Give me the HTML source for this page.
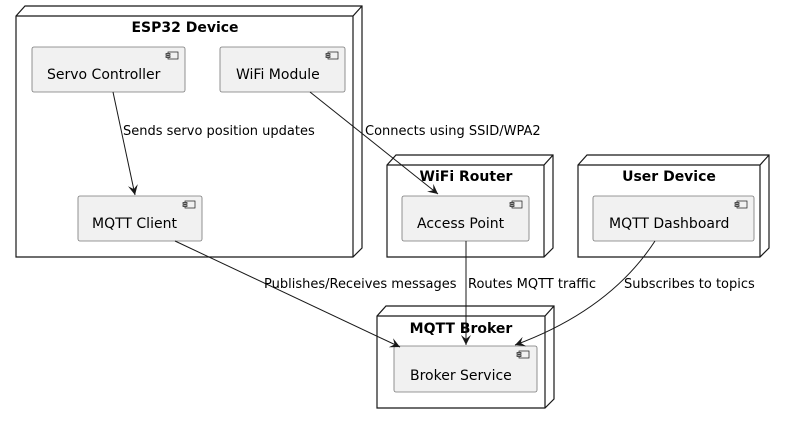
<!DOCTYPE html>
<html><head><meta charset="utf-8"><style>body{margin:0;background:#fff}svg{display:block}text{font-family:"DejaVu Sans","Liberation Sans",sans-serif}</style></head><body>
<svg width="786" height="424" viewBox="0 0 786 424" xmlns="http://www.w3.org/2000/svg">
<defs><marker id="a" markerWidth="12" markerHeight="10" refX="10" refY="5" orient="auto" markerUnits="userSpaceOnUse"><path d="M0,0 L10,5 L0,10 L4,5 Z" fill="#181818"/></marker>
<g id="ic"><rect x="0" y="0" width="10" height="7" fill="#f1f1f1" stroke="#181818" stroke-width="0.7"/><rect x="-2" y="1.5" width="4" height="1.5" fill="#f1f1f1" stroke="#181818" stroke-width="0.7"/><rect x="-2" y="4" width="4" height="1.5" fill="#f1f1f1" stroke="#181818" stroke-width="0.7"/></g></defs>
<g fill="#fff" stroke="#181818" stroke-width="1.2">
<path d="M16,16 L25,6 L362,6 L362,248 L353,257 L16,257 Z M16,16 L353,16 L362,6 M353,16 L353,257"/>
<path d="M387,165 L396,155 L553,155 L553,248 L544,257 L387,257 Z M387,165 L544,165 L553,155 M544,165 L544,257"/>
<path d="M578,165 L587,155 L769,155 L769,248 L760,257 L578,257 Z M578,165 L760,165 L769,155 M760,165 L760,257"/>
<path d="M377,316 L386,306 L554,306 L554,399 L545,408 L377,408 Z M377,316 L545,316 L554,306 M545,316 L545,408"/>
</g>
<g font-size="14" font-weight="bold" text-anchor="middle" fill="#000">
<text x="185" y="32">ESP32 Device</text>
<text x="466" y="181">WiFi Router</text>
<text x="669" y="181">User Device</text>
<text x="461" y="333">MQTT Broker</text>
</g>
<g fill="#f1f1f1" stroke="#777" stroke-width="0.8">
<rect x="32" y="47" width="153" height="45" rx="2"/>
<rect x="220" y="47" width="125" height="45" rx="2"/>
<rect x="78" y="196" width="124" height="45" rx="2"/>
<rect x="402" y="196" width="127" height="45" rx="2"/>
<rect x="593" y="196" width="161" height="45" rx="2"/>
<rect x="394" y="346" width="143" height="46" rx="2"/>
</g>
<use href="#ic" x="168" y="52"/><use href="#ic" x="328" y="52"/><use href="#ic" x="185" y="201"/><use href="#ic" x="512" y="201"/><use href="#ic" x="737" y="201"/><use href="#ic" x="519" y="351"/>
<g font-size="14" fill="#000">
<text x="47" y="79">Servo Controller</text>
<text x="236" y="79">WiFi Module</text>
<text x="92" y="228">MQTT Client</text>
<text x="417" y="228">Access Point</text>
<text x="609" y="228">MQTT Dashboard</text>
<text x="410" y="380">Broker Service</text>
</g>
<g stroke="#181818" stroke-width="1" fill="none" marker-end="url(#a)">
<path d="M113,92 L135,195"/>
<path d="M310,92 L438,194"/>
<path d="M175,241 L400,347"/>
<path d="M466,241 L466,345"/>
<path d="M655,241 Q610,310 515,345"/>
</g>
<g font-size="13" fill="#000">
<text x="123" y="135">Sends servo position updates</text>
<text x="365" y="135">Connects using SSID/WPA2</text>
<text x="264" y="288">Publishes/Receives messages</text>
<text x="468" y="288">Routes MQTT traffic</text>
<text x="624" y="288">Subscribes to topics</text>
</g>
</svg>
</body></html>
